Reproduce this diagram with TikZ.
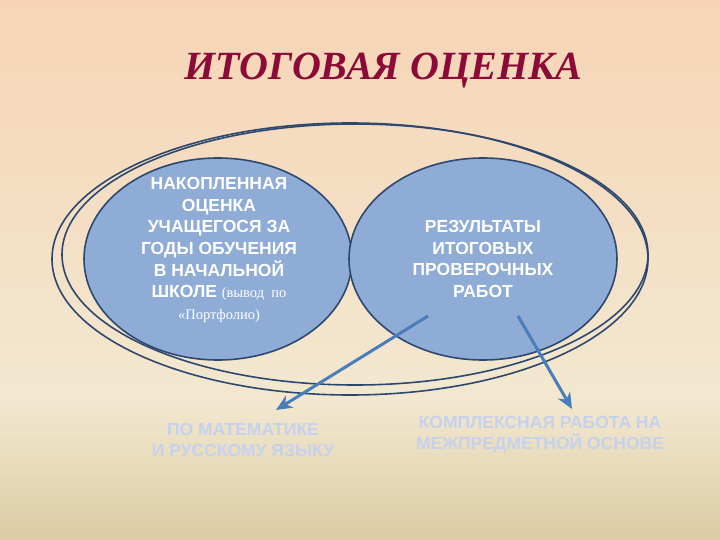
\documentclass[tikz,border=0pt]{standalone}
\usepackage{fontspec}
\setmainfont{Liberation Serif}
\setsansfont{Liberation Sans}
\usetikzlibrary{arrows.meta}
\definecolor{bgtop}{RGB}{247,212,182}
\definecolor{bgmid}{RGB}{242,232,208}
\definecolor{bgbot}{RGB}{220,204,164}
\definecolor{titlered}{RGB}{140,10,55}
\definecolor{circfill}{RGB}{142,172,214}
\definecolor{circline}{RGB}{45,72,110}
\definecolor{arrowblue}{RGB}{74,126,187}
\definecolor{faintblue}{RGB}{198,209,238}
\pgfdeclareverticalshading{bgshade}{100bp}{color(0bp)=(bgbot); color(25bp)=(bgbot); color(38bp)=(bgmid); color(75bp)=(bgtop); color(100bp)=(bgtop)}
\tikzset{
  bubble/.style={draw=circline, line width=1.6pt, fill=circfill},
  ring/.style={draw=circline, line width=1.6pt},
  btext/.style={text=white, align=center, font=\sffamily\bfseries\fontsize{17.5}{21.7}\selectfont},
  link/.style={draw=arrowblue, line width=3pt, -{Stealth[length=16pt,width=14pt,inset=5pt]}},
  faint/.style={text=faintblue, align=center, font=\sffamily\bfseries\fontsize{17.5}{21}\selectfont}
}
\newcommand{\serifbit}[1]{{\rmfamily\mdseries\fontsize{14.5}{21.7}\selectfont #1}}
\begin{document}
\begin{tikzpicture}[x=1pt,y=-1pt]
\useasboundingbox (0,0) rectangle (720,540);
\shade[shading=bgshade] (0,0) rectangle (720,540);
\node[text=titlered, font=\bfseries\itshape\fontsize{40}{44}\selectfont] (title) at (383,71) {ИТОГОВАЯ ОЦЕНКА};
\draw[ring] (350,259) ellipse [x radius=298, y radius=136];
\draw[ring] (355,254.5) ellipse [x radius=293, y radius=130.5];
\draw[bubble] (218,259) ellipse [x radius=134, y radius=101];
\draw[bubble] (483,259) ellipse [x radius=134, y radius=101];
\node[btext] (left) at (219,250) {НАКОПЛЕННАЯ\\ОЦЕНКА\\УЧАЩЕГОСЯ ЗА\\ГОДЫ ОБУЧЕНИЯ\\В НАЧАЛЬНОЙ\\ШКОЛЕ \serifbit{(вывод\ \ по}\\\serifbit{«Портфолио)}};
\node[btext] (right) at (483,259) {РЕЗУЛЬТАТЫ\\ИТОГОВЫХ\\ПРОВЕРОЧНЫХ\\РАБОТ};
\coordinate (s1) at (428,316);
\coordinate (s2) at (518,316);
\node[faint] (math) at (243,440) {ПО МАТЕМАТИКЕ\\И РУССКОМУ ЯЗЫКУ};
\node[faint] (compl) at (540,435) {КОМПЛЕКСНАЯ РАБОТА НА\\МЕЖПРЕДМЕТНОЙ ОСНОВЕ};
\coordinate (t1) at (276,410);
\coordinate (t2) at (572,409);
\draw[link] (s1) -- (t1);
\draw[link] (s2) -- (t2);
\end{tikzpicture}
\end{document}
